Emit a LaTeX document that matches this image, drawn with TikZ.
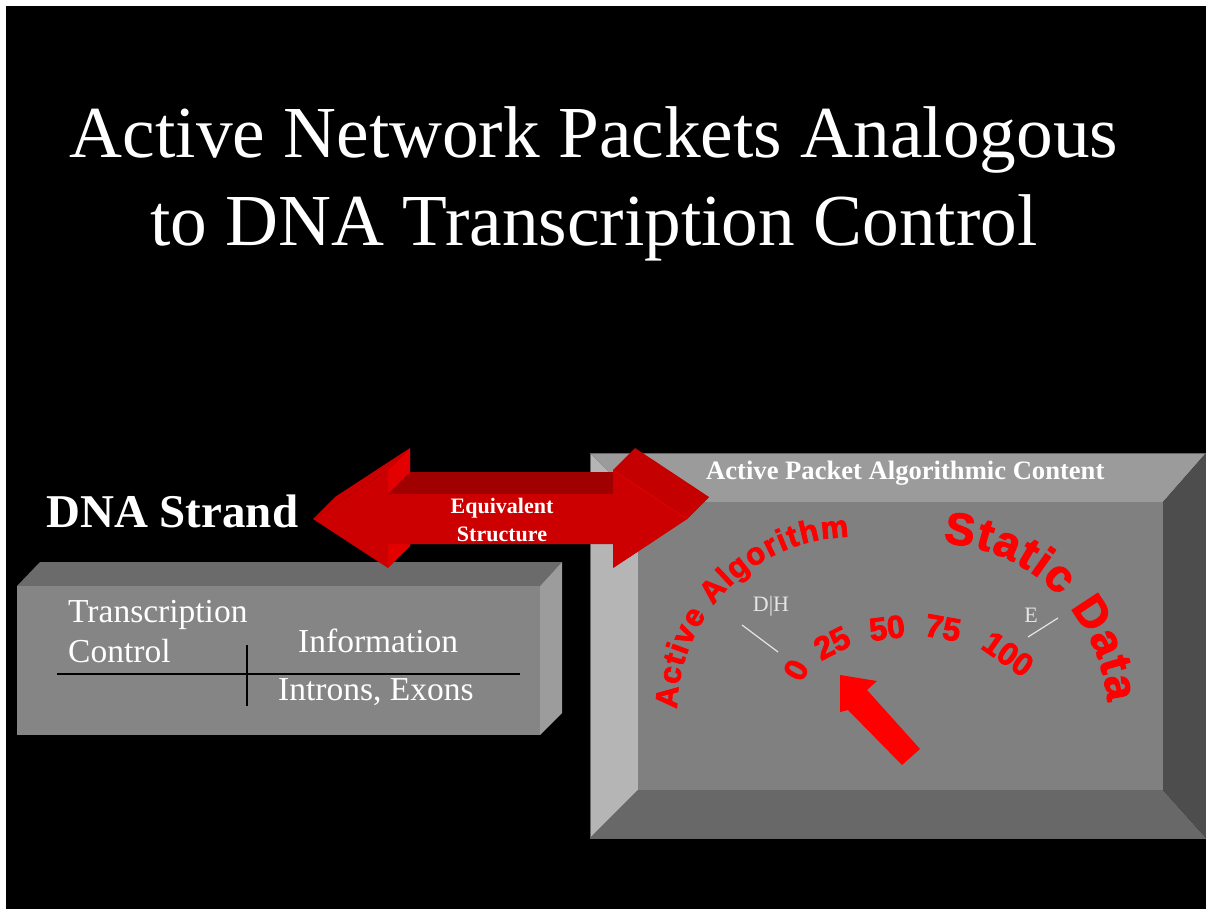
\documentclass[tikz,border=0pt]{standalone}
\usepackage{fontspec}
\setmainfont{Liberation Serif}
\newfontfamily\gaugefont{Liberation Sans}[BoldFeatures={FakeBold=2.5}]
\usetikzlibrary{decorations.text,calc}
\newcommand\pxsize[1]{\fontsize{#1}{#1}\selectfont}
\definecolor{arrowfront}{HTML}{CC0000}
\definecolor{arrowtop}{HTML}{A00000}
\definecolor{arrowside}{HTML}{E20000}
\definecolor{headtop}{HTML}{C40000}
\definecolor{boxfront}{HTML}{858585}
\definecolor{boxtop}{HTML}{6B6B6B}
\definecolor{boxside}{HTML}{9C9C9C}
\definecolor{bevtop}{HTML}{9B9B9B}
\definecolor{bevleft}{HTML}{B5B5B5}
\definecolor{bevbottom}{HTML}{686868}
\definecolor{bevright}{HTML}{4D4D4D}
\definecolor{panel}{HTML}{808080}
\definecolor{gaugered}{HTML}{FF0000}
\begin{document}
\begin{tikzpicture}[x=1pt,y=-1pt,
  titletext/.style={text=white,font=\pxsize{73.3},inner sep=0pt,anchor=base},
  bigtext/.style={text=white,font=\bfseries\pxsize{47},inner sep=0pt,anchor=base west},
  boxtext/.style={text=white,font=\pxsize{33.5},inner sep=0pt,anchor=base west},
  eqtext/.style={text=white,font=\bfseries\pxsize{22},inner sep=0pt,anchor=base},
  headtext/.style={text=white,font=\bfseries\pxsize{26.6},inner sep=0pt,anchor=base west},
  numtext/.style={text=gaugered,font=\gaugefont\bfseries\pxsize{32},inner sep=0pt},
  marktext/.style={text=white!90!black,font=\pxsize{22},inner sep=0pt},
  rule/.style={draw=black,line width=1.5pt},
  tick/.style={draw=white!90!black,line width=1.2pt}]

\useasboundingbox (0,0) rectangle (1206,909);
\fill[white] (0,0) rectangle (1206,909);
\fill[black] (6,6) rectangle (1206,909);

% title
\node[titletext] (title1) at (594,158) {Active Network Packets Analogous};
\node[titletext] (title2) at (594,246) {to DNA Transcription Control};

% DNA strand block
\node[bigtext] (dna) at (46,527) {DNA Strand};
\fill[boxtop] (17,586) -- (40,562) -- (562,562) -- (540,586) -- cycle;
\fill[boxside] (540,586) -- (562,562) -- (562,713) -- (540,735) -- cycle;
\fill[boxfront] (17,586) rectangle (540,735);
\node[boxtext] (tc1) at (68,622) {Transcription};
\node[boxtext] (tc2) at (68,662) {Control};
\node[boxtext] (info) at (298,652) {Information};
\node[boxtext] (intr) at (278,700) {Introns, Exons};
\coordinate (hl) at (57,674);
\coordinate (hr) at (520,674);
\coordinate (vt) at (247,645);
\coordinate (vb) at (247,706);
\draw[rule] (hl) -- (hr);
\draw[rule] (vt) -- (vb);

% bevelled panel
\fill[bevtop] (590,453) -- (1206,453) -- (1163,502) -- (638,502) -- cycle;
\fill[bevleft] (590,453) -- (638,502) -- (638,790) -- (590,838) -- cycle;
\fill[bevbottom] (590,838) -- (638,790) -- (1163,790) -- (1206,838) -- cycle;
\fill[bevright] (1206,453) -- (1206,838) -- (1163,790) -- (1163,502) -- cycle;
\fill[panel] (638,502) rectangle (1163,790);
\draw[black!60,line width=0.8pt] (590,453) -- (1206,453);
\draw[black!60,line width=0.8pt] (590,453) -- (590,838) -- (1206,838);
\node[headtext] (head) at (706,479) {Active Packet Algorithmic Content};

% curved labels
\path[decorate,decoration={text along path,
    text={|\gaugefont\bfseries\pxsize{31}|Active Algorithm},
    text color=gaugered,text align=fit to path}]
  ($(852,712)+(-179:175)$) arc[start angle=-179,end angle=-91,radius=175];
\path[decorate,decoration={text along path,
    text={|\gaugefont\bfseries\pxsize{45}|Static Data},
    text color=gaugered,text align=fit to path}]
  ($(934,717)+(-87:174)$) arc[start angle=-87,end angle=-5,radius=174];

% gauge scale
\node[numtext,rotate=62] (n0) at (796,670) {0};
\node[numtext,rotate=27] (n25) at (832,643) {25};
\node[numtext,rotate=7] (n50) at (887,628) {50};
\node[numtext,rotate=-10] (n75) at (943,628) {75};
\node[numtext,rotate=-35] (n100) at (1008,654) {100};
\node[marktext] (dh) at (771,606) {D|H};
\node[marktext] (e) at (1031,615) {E};
\coordinate (dha) at (742,625);
\coordinate (dhb) at (778,652);
\coordinate (ea) at (1028,637);
\coordinate (eb) at (1058,618);
\draw[tick] (dha) -- (dhb);
\draw[tick] (ea) -- (eb);

% pointer
\fill[gaugered] (840,675) -- (877,681) -- (867,690) -- (920,749) -- (902,765)
  -- (848,710) -- (840,712) -- cycle;

% double arrow
\fill[arrowside] (388,470) -- (410,448) -- (410,546) -- (388,568) -- cycle;
\fill[arrowfront] (313,519) -- (335,497) -- (410,448) -- (388,470) -- cycle;
\fill[arrowtop] (388,494) -- (410,472) -- (635,472) -- (613,494) -- cycle;
\fill[headtop] (613,470) -- (635,448) -- (709,497) -- (687,519) -- cycle;
\fill[arrowfront] (687,519) -- (709,497) -- (635,546) -- (613,568) -- cycle;
\fill[arrowfront] (313,519) -- (388,470) -- (388,494) -- (613,494) -- (613,470)
  -- (687,519) -- (613,568) -- (613,544) -- (388,544) -- (388,568) -- cycle;
\draw[arrowside,line width=0.8pt] (613,470) -- (687,519);
\node[eqtext] (eq1) at (502,513) {Equivalent};
\node[eqtext] (eq2) at (502,541) {Structure};
\end{tikzpicture}
\end{document}
